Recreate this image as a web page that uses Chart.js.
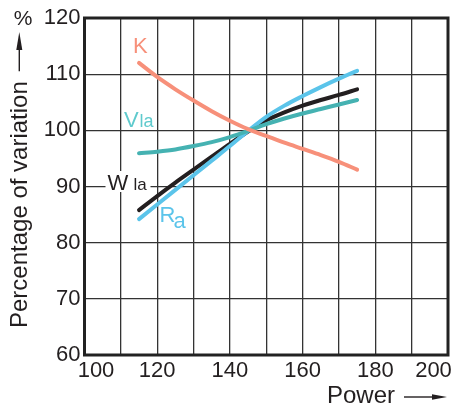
<!DOCTYPE html>
<html>
<head>
<meta charset="utf-8">
<script src="https://cdn.jsdelivr.net/npm/chart.js@4/dist/chart.umd.min.js"></script>
<style>
html,body{margin:0;padding:0;background:#fff;}
#wrap{width:457px;height:408px;}
</style>
</head>
<body>
<div id="wrap"><canvas id="c" width="457" height="408"></canvas></div>
<script>
const power = [115,120,125,130,135,140,145,150,155,160,165,170,175];
const K   = [112.0,109.5,107.3,105.3,103.4,101.7,100.2,99.0,97.8,96.7,95.6,94.4,93.0];
const Vla = [95.9,96.2,96.6,97.2,97.9,98.8,99.9,101.1,102.1,103.0,103.8,104.6,105.4];
const Wla = [85.8,88.3,90.7,93.0,95.3,97.6,99.8,101.8,103.2,104.4,105.4,106.3,107.3];
const Ra  = [84.2,86.8,89.4,92.0,94.6,97.2,99.9,102.4,104.4,106.1,107.7,109.2,110.6];
const xTickLabels = [100,120,140,160,180,200];
const yTitle = "Percentage of variation";
const xTitle = "Power";

const FONT = '"Liberation Sans", Arial, Helvetica, sans-serif';
const INK = '#231F20';
const C_K = '#F7907A', C_V = '#45B2B2', C_VL = '#5FCACD', C_W = '#231F20', C_R = '#5BC4EA';

function pts(ys){ return power.map((x,i)=>({x:x,y:ys[i]})); }
function ds(label, ys, color){
  return {label:label, data:pts(ys), borderColor:color, backgroundColor:color,
    borderWidth:4, pointRadius:0, tension:0.4, cubicInterpolationMode:'monotone',
    borderCapStyle:'round', borderJoinStyle:'round', fill:false};
}

const decor = {
  id:'decor',
  afterDraw(chart){
    const ctx = chart.ctx, a = chart.chartArea, xs = chart.scales.x;
    ctx.save();
    ctx.strokeStyle = '#222'; ctx.lineWidth = 3;
    ctx.strokeRect(a.left, a.top, a.right-a.left, a.bottom-a.top);
    ctx.fillStyle = INK; ctx.font = '22px '+FONT; ctx.textAlign='center'; ctx.textBaseline='alphabetic';
    xTickLabels.forEach((v,i)=>{
      let px = xs.getPixelForValue(v);
      if(i===0) px += 11.5;
      if(i===xTickLabels.length-1) px -= 14.5;
      ctx.fillText(String(v), px, 377);
    });
    ctx.save();
    ctx.translate(26.5, 328); ctx.rotate(-Math.PI/2);
    ctx.font = '24px '+FONT; ctx.textAlign='left';
    ctx.fillText(yTitle, 0, 0);
    const w = ctx.measureText(yTitle).width;
    ctx.restore();
    const endY = 328 - w;
    ctx.strokeStyle = INK; ctx.lineWidth = 1.4;
    ctx.beginPath(); ctx.moveTo(19.3, endY-10); ctx.lineTo(19.3, 48); ctx.stroke();
    ctx.beginPath(); ctx.moveTo(19.3, 32); ctx.lineTo(16.3, 50); ctx.lineTo(22.3, 50); ctx.closePath(); ctx.fill();
    ctx.font = '21px '+FONT; ctx.textAlign='center';
    ctx.fillText('%', 23, 25);
    ctx.font = '24px '+FONT; ctx.textAlign='left';
    ctx.fillText(xTitle, 327, 403);
    ctx.beginPath(); ctx.moveTo(404, 397); ctx.lineTo(436, 397); ctx.stroke();
    ctx.beginPath(); ctx.moveTo(447, 397); ctx.lineTo(432, 394.3); ctx.lineTo(432, 399.7); ctx.closePath(); ctx.fill();
    ctx.textAlign='left';
    ctx.fillStyle = C_K; ctx.font = '22px '+FONT; ctx.fillText('K', 133, 53);
    ctx.fillStyle = C_VL; ctx.font = '22px '+FONT; ctx.fillText('V', 124, 127);
    ctx.font = '18px '+FONT; ctx.fillText('la', 139.5, 127);
    ctx.fillStyle = '#fff'; ctx.fillRect(105.5, 171, 45, 21);
    ctx.fillStyle = C_W; ctx.font = '22px '+FONT; ctx.fillText('W', 107.5, 190);
    ctx.font = '17px '+FONT; ctx.fillText('la', 133.5, 190);
    ctx.fillStyle = C_R; ctx.font = '22px '+FONT; ctx.fillText('R', 159.5, 222);
    ctx.fillText('a', 173.5, 228);
    ctx.restore();
  }
};

new Chart(document.getElementById('c'), {
  type:'line',
  data:{datasets:[ds('K',K,C_K), ds('Vla',Vla,C_V), ds('Ra',Ra,C_R), ds('Wla',Wla,C_W)]},
  options:{
    responsive:false, animation:false, devicePixelRatio:1,
    layout:{padding:{top:18,right:9,left:0,bottom:0}},
    plugins:{legend:{display:false}, tooltip:{enabled:false}},
    scales:{
      x:{type:'linear', min:100, max:200,
        ticks:{stepSize:10, display:false},
        grid:{color:'#333', lineWidth:1.3, drawTicks:false},
        border:{display:false},
        afterFit(s){ s.height = 53; }
      },
      y:{type:'linear', min:60, max:120,
        ticks:{stepSize:10, color:INK, font:{family:FONT, size:22}, padding:4},
        grid:{color:'#333', lineWidth:1.3, drawTicks:false},
        border:{display:false},
        afterFit(s){ s.width = 84.5; }
      }
    }
  },
  plugins:[decor]
});
</script>
</body>
</html>
